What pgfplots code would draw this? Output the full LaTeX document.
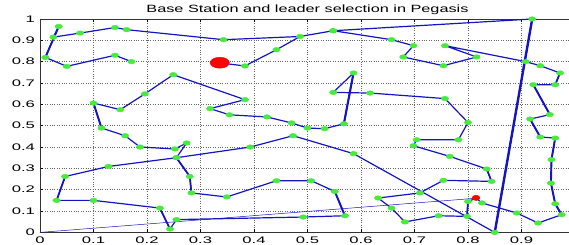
\documentclass[border=0pt]{standalone}
\usepackage{fontspec}
\setmainfont{Liberation Sans}
\usepackage{graphicx}
\usepackage{pgfplots}
\pgfplotsset{compat=1.18}
\definecolor{chain}{RGB}{20,20,195}
\definecolor{node}{RGB}{70,235,60}
\newcommand{\sx}[1]{\scalebox{1.75}[1]{#1}}
\newcommand{\st}[1]{\scalebox{1.55}[1]{#1}}
\begin{document}
\begin{tikzpicture}
\begin{axis}[name=ax, scale only axis, width=535pt, height=213.4pt,
  xmin=0, xmax=1, ymin=0, ymax=1,
  xtick={0,0.1,0.2,0.3,0.4,0.5,0.6,0.7,0.8,0.9,1},
  ytick={0,0.1,0.2,0.3,0.4,0.5,0.6,0.7,0.8,0.9,1},
  xticklabels={\sx{0},\sx{0.1},\sx{0.2},\sx{0.3},\sx{0.4},\sx{0.5},\sx{0.6},\sx{0.7},\sx{0.8},\sx{0.9},{}},
  yticklabels={\sx{0},\sx{0.1},\sx{0.2},\sx{0.3},\sx{0.4},\sx{0.5},\sx{0.6},\sx{0.7},\sx{0.8},\sx{0.9},\sx{1}},
  ticklabel style={font=\fontsize{9.5}{11}\selectfont},
  xticklabel style={anchor=base, yshift=-11.3pt},
  yticklabel style={anchor=east, xshift=-1.5pt},
  grid=major, grid style={dotted, black!60, line width=0.5pt},
  tick align=inside, major tick length=3pt, tick style={black, line width=0.5pt},
  axis line style={black!80, line width=0.7pt},
  title={\st{Base Station and leader selection in Pegasis}},
  title style={at={(0.5,1)}, anchor=base, font=\fontsize{10.5}{12}\selectfont},
]
% thin line base station
\addplot[chain, line width=0.5pt, no marks] coordinates {(0,0) (0.815,0.16)};
% leader line
\addplot[chain, line width=1.2pt, no marks] coordinates {(0.336,0.794) (0.383,0.78) (0.442,0.856) (0.486,0.918)};
% thick segments
\addplot[chain, line width=2.4pt, no marks] coordinates {(0.85,0.0) (0.92,1.0)};
\addplot[chain, line width=2.1pt, no marks] coordinates {(0.568,0.509) (0.586,0.747)};
\addplot[chain, line width=1.9pt, no marks] coordinates {(0.1,0.606) (0.115,0.489)};
\addplot[chain, line width=1.9pt, no marks] coordinates {(0.57,0.078) (0.551,0.192)};
\addplot[chain, line width=1.9pt, no marks] coordinates {(0.01,0.82) (0.035,0.965)};
\addplot[chain, line width=1.9pt, no marks] coordinates {(0.975,0.083) (0.963,0.134) (0.955,0.231) (0.956,0.341) (0.963,0.442)};
\addplot[chain, line width=1.9pt, no marks] coordinates {(0.916,0.531) (0.935,0.447)};
\addplot[chain, line width=1.9pt, no marks] coordinates {(0.922,0.692) (0.953,0.552)};
\addplot[chain, line width=1.7pt, no marks] coordinates {(0.963,0.692) (0.972,0.747)};
\addplot[chain, line width=1.7pt, no marks] coordinates {(0.255,0.35) (0.28,0.262) (0.283,0.185)};
\addplot[chain, line width=1.7pt, no marks] coordinates {(0.243,0.016) (0.224,0.114)};
\addplot[chain, line width=1.7pt, no marks] coordinates {(0.031,0.15) (0.047,0.262)};
\addplot[chain, line width=1.6pt, no marks] coordinates {(0.80,0.145) (0.798,0.075)};
\addplot[chain, line width=1.6pt, no marks] coordinates {(0.835,0.297) (0.844,0.239)};
% main chain
\addplot[chain, line width=1.2pt, mark=*, mark size=2.3pt,
  mark options={fill=node, draw=node, xscale=1.6, line width=0.4pt}] coordinates {
(0.171,0.80) (0.14,0.83) (0.05,0.778) (0.01,0.82) (0.035,0.965) (0.025,0.915)
(0.075,0.934) (0.14,0.96) (0.162,0.95) (0.343,0.903) (0.486,0.918) (0.548,0.945)
(0.92,1.0) (0.85,0.0) (0.586,0.369) (0.473,0.453) (0.393,0.40) (0.255,0.35)
(0.128,0.309) (0.047,0.262) (0.031,0.15) (0.1,0.15) (0.224,0.114) (0.243,0.016)
(0.255,0.06) (0.492,0.072) (0.57,0.078) (0.551,0.192) (0.507,0.242) (0.442,0.242)
(0.349,0.166) (0.283,0.185) (0.28,0.262) (0.255,0.35) (0.274,0.419) (0.252,0.391)
(0.187,0.40) (0.159,0.453) (0.115,0.489) (0.1,0.606) (0.15,0.575) (0.196,0.649)
(0.249,0.739) (0.383,0.622) (0.318,0.58) (0.354,0.551) (0.424,0.541) (0.47,0.513)
(0.5,0.489) (0.532,0.486) (0.568,0.509) (0.586,0.747) (0.548,0.656) (0.617,0.653)
(0.757,0.627) (0.80,0.515) (0.782,0.434) (0.704,0.434) (0.698,0.406) (0.766,0.356)
(0.835,0.297) (0.844,0.239) (0.754,0.244) (0.71,0.185) (0.632,0.161) (0.657,0.114)
(0.682,0.049) (0.745,0.078) (0.798,0.075) (0.80,0.145) (0.815,0.16) (0.826,0.138)
(0.891,0.091) (0.931,0.044) (0.975,0.083) (0.963,0.134) (0.955,0.231) (0.956,0.341)
(0.963,0.442) (0.935,0.447) (0.916,0.531) (0.953,0.552) (0.922,0.692) (0.963,0.692)
(0.972,0.747) (0.935,0.781) (0.908,0.80) (0.757,0.875) (0.816,0.822) (0.754,0.781)
(0.679,0.822) (0.698,0.875) (0.657,0.903) (0.548,0.945)
};
\addplot[only marks, mark=*, mark size=2.3pt,
  mark options={fill=node, draw=node, xscale=1.6, line width=0.4pt}] coordinates {(0.383,0.78) (0.442,0.856)};
% leader / base station dots
\addplot[only marks, mark=*, mark size=5.5pt, mark options={fill=red, draw=red, xscale=1.75}] coordinates {(0.336,0.795)};
\addplot[only marks, mark=*, mark size=2.6pt, mark options={fill=red, draw=red, xscale=1.5}] coordinates {(0.815,0.162)};
\end{axis}
\pgfresetboundingbox
\path ([shift={(-40pt,-12.3pt)}]ax.south west) rectangle ([shift={(529pt,19pt)}]ax.north west);
\end{tikzpicture}
\end{document}
